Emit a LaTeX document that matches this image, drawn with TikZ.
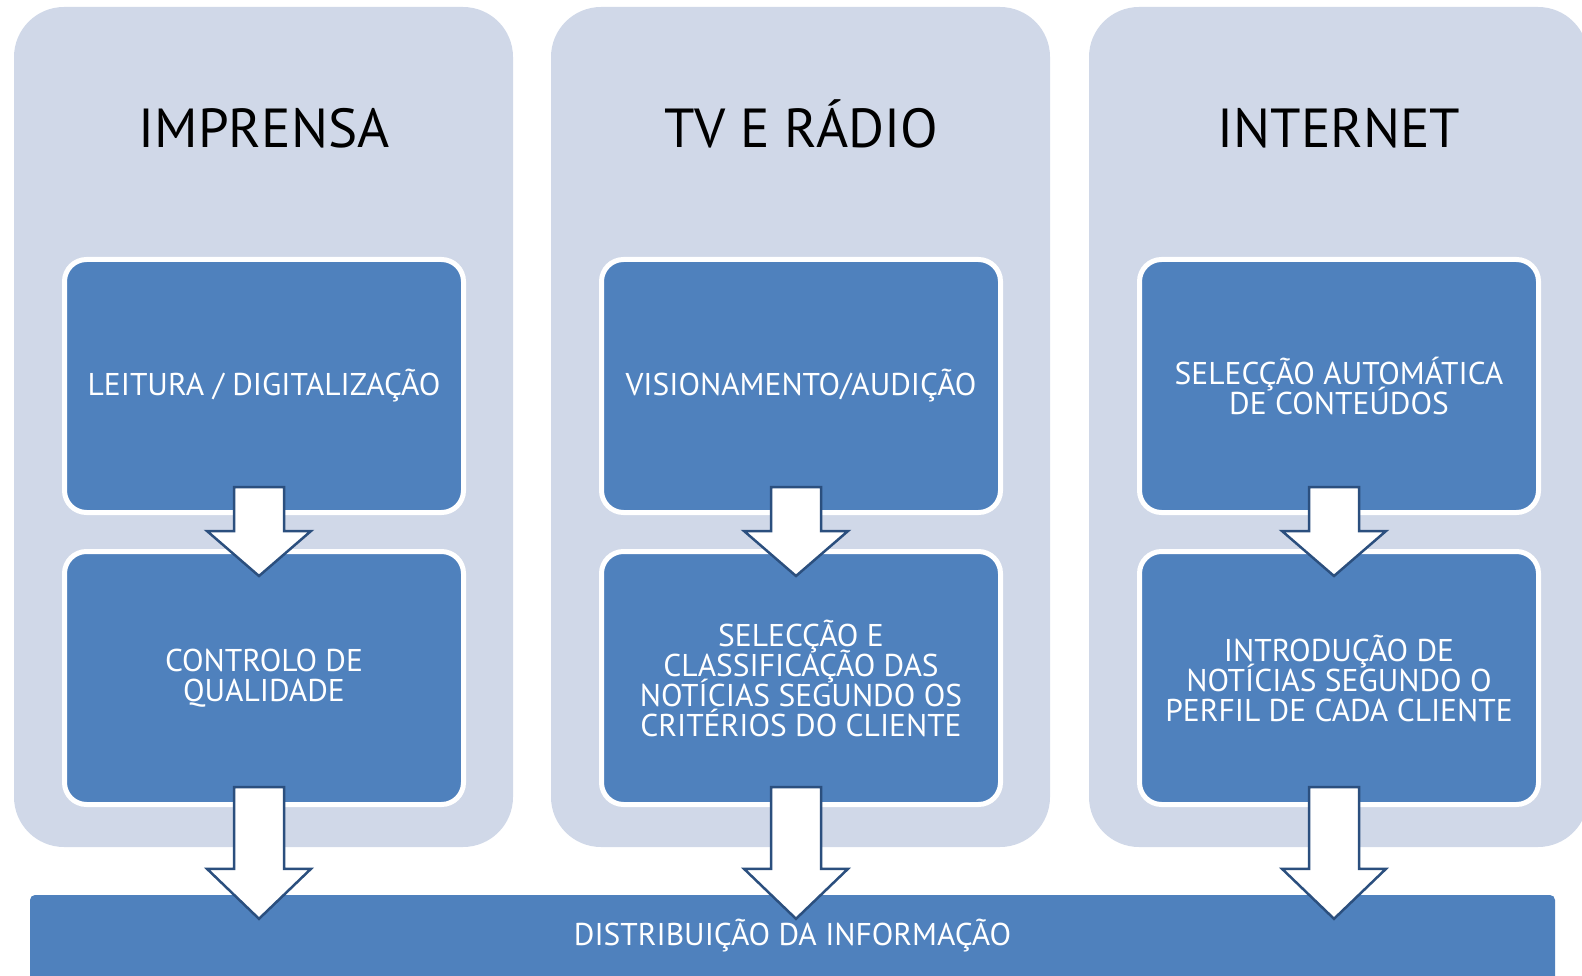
\documentclass[tikz,border=0pt]{standalone}
\usepackage{fontspec}
\setmainfont{PT Sans}
\usetikzlibrary{calc}

\definecolor{fundo}{HTML}{D0D8E8}
\definecolor{caixa}{HTML}{4F81BD}
\definecolor{contorno}{HTML}{2B4F7E}

\tikzset{
  painel/.style={fill=fundo, rounded corners=50pt, minimum width=499pt,
    minimum height=840pt, inner sep=0pt},
  titulo/.style={anchor=base, font=\fontsize{55}{60}\selectfont},
  etapa/.style={fill=caixa, draw=white, line width=5pt, rounded corners=22pt,
    minimum width=399pt, minimum height=253pt, inner sep=0pt, text=white,
    align=center, font={\fontsize{31.5}{30}\selectfont\lineskiplimit=-40pt}},
  faixa/.style={fill=caixa, rounded corners=5pt, minimum width=1525pt,
    minimum height=95pt, text=white, text height=21pt, text depth=15pt,
    font=\fontsize{31.5}{30}\selectfont},
  seta/.style={fill=white, draw=contorno, line width=2.5pt, line join=miter},
}

% seta larga: de, para, recuo no inicio, avanco da ponta, comprimento da ponta
\newcommand{\setalarga}[5]{%
  \draw[seta] ($(#1.south)+(-30,-#3)$)
    -- ($(#2.north -| #1.south)+(-30,#4-#5)$)
    -- ($(#2.north -| #1.south)+(-57,#4-#5)$)
    -- ($(#2.north -| #1.south)+(-5,#4)$)
    -- ($(#2.north -| #1.south)+(47,#4-#5)$)
    -- ($(#2.north -| #1.south)+(20,#4-#5)$)
    -- ($(#1.south)+(20,-#3)$) -- cycle;}

\begin{document}
\begin{tikzpicture}  % ------ fluxo de tratamento da informacao -------
      [x=1pt, y=-1pt]

    \useasboundingbox (0,0) rectangle (1582,976);

    \node[painel] (imprensa) at (263.5,427) {};
    \node[painel] (tv)       at (800.5,427) {};
    \node[painel] (internet) at (1338.5,427) {};

    \node[titulo] at (264,148)  {IMPRENSA};
    \node[titulo] at (801,148)  {TV E RÁDIO};
    \node[titulo] at (1339,148) {INTERNET};

    \node[etapa] (imp1) at (264,386)  {LEITURA / DIGITALIZAÇÃO};
    \node[etapa] (imp2) at (264,678)  {CONTROLO DE\\QUALIDADE};
    \node[etapa] (tv1)  at (801,386)  {VISIONAMENTO/AUDIÇÃO};
    \node[etapa] (tv2)  at (801,678)  {SELECÇÃO E\\CLASSIFICAÇÃO DAS\\NOTÍCIAS SEGUNDO OS\\CRITÉRIOS DO CLIENTE};
    \node[etapa] (net1) at (1339,386) {SELECÇÃO AUTOMÁTICA\\DE CONTEÚDOS};
    \node[etapa] (net2) at (1339,678) {INTRODUÇÃO DE\\NOTÍCIAS SEGUNDO O\\PERFIL DE CADA CLIENTE};

    \node[faixa] (distrib) at (792.5,942.5) {DISTRIBUIÇÃO DA INFORMAÇÃO};

    \setalarga{imp1}{imp2}{28}{27}{45}   % etapas de cada coluna
    \setalarga{tv1}{tv2}{28}{27}{45}
    \setalarga{net1}{net2}{28}{27}{45}
    \setalarga{imp2}{distrib}{20}{24}{50}   % ate a distribuicao
    \setalarga{tv2}{distrib}{20}{24}{50}
    \setalarga{net2}{distrib}{20}{24}{50}
\end{tikzpicture}
\end{document}
